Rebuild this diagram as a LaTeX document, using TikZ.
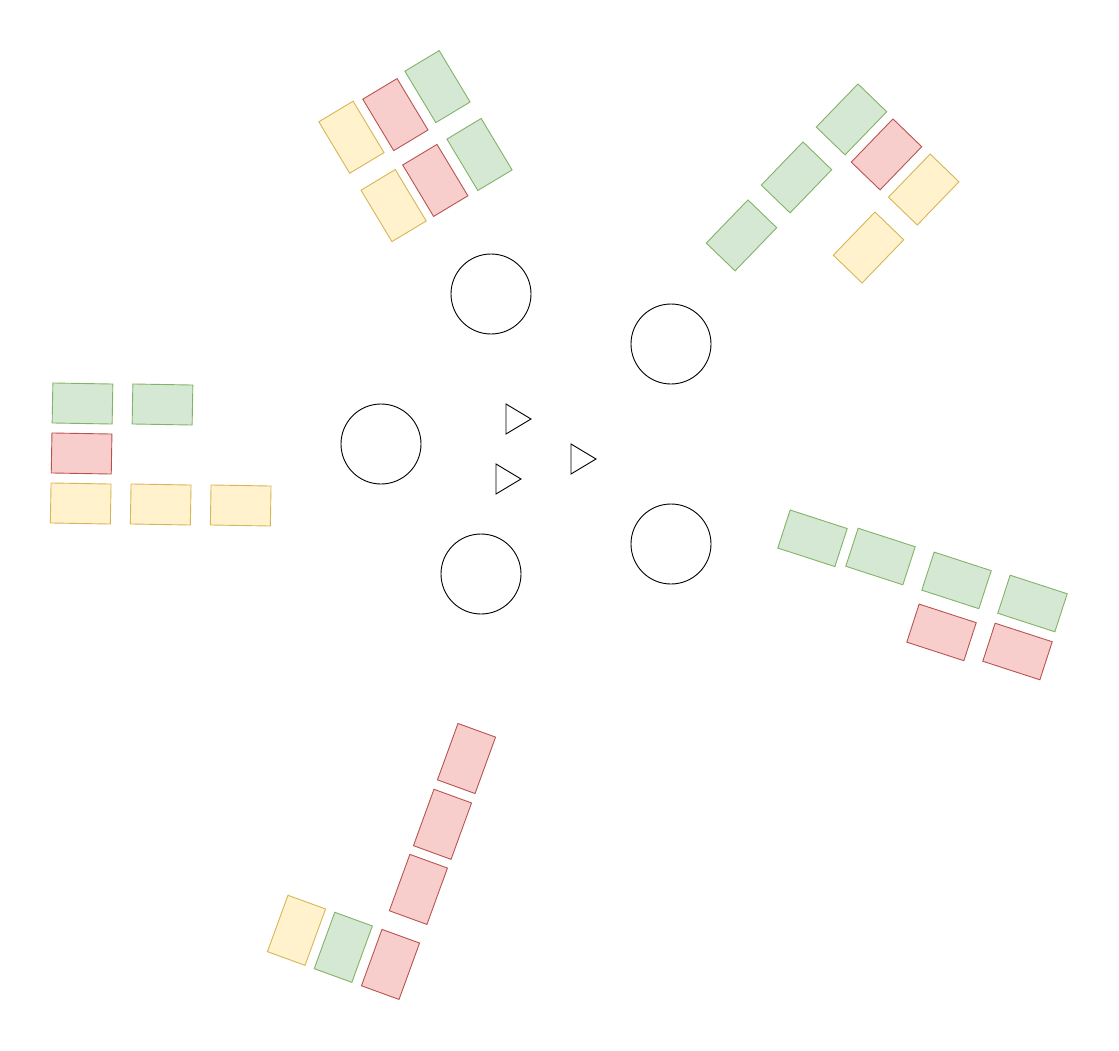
\documentclass[tikz,border=0pt]{standalone}
\definecolor{gfill}{HTML}{D5E8D4}
\definecolor{gline}{HTML}{82B366}
\definecolor{rfill}{HTML}{F8CECC}
\definecolor{rline}{HTML}{B85450}
\definecolor{yfill}{HTML}{FFF2CC}
\definecolor{yline}{HTML}{D6B656}
\tikzset{
  box/.style={draw, line width=0.9pt, inner sep=0pt, outer sep=0pt, minimum width=60pt, minimum height=40pt},
  tallbox/.style={box, minimum width=40pt, minimum height=60pt},
  gbox/.style={draw=gline, fill=gfill},
  rbox/.style={draw=rline, fill=rfill},
  ybox/.style={draw=yline, fill=yfill},
  ring/.style={circle, draw=black, line width=0.9pt, minimum size=80pt, inner sep=0pt, outer sep=0pt},
  tri/.style={draw=black, line width=0.9pt, fill=white, line join=miter}
}
\begin{document}
\begin{tikzpicture}[x=1pt,y=-1pt]
\useasboundingbox (0,0) rectangle (1119,1051);
% centre circles
\node[ring] (c1) at (491,294) {};
\node[ring] (c2) at (671,344) {};
\node[ring] (c3) at (381,444) {};
\node[ring] (c4) at (481,574) {};
\node[ring] (c5) at (671,544) {};
% triangles
\coordinate (t1) at (506,404);
\coordinate (t2) at (496,464);
\coordinate (t3) at (571,444);
\draw[tri] (t1) -- ++(25,15) -- ++(-25,15) -- cycle;
\draw[tri] (t2) -- ++(25,15) -- ++(-25,15) -- cycle;
\draw[tri] (t3) -- ++(25,15) -- ++(-25,15) -- cycle;
% top group
\node[tallbox, ybox, rotate=31] (a1) at (351.4,137.2) {};
\node[tallbox, rbox, rotate=31] (a2) at (395.4,114.6) {};
\node[tallbox, gbox, rotate=31] (a3) at (437.5,86.6) {};
\node[tallbox, ybox, rotate=31] (a4) at (393.6,205.6) {};
\node[tallbox, rbox, rotate=31] (a5) at (435.3,180.4) {};
\node[tallbox, gbox, rotate=31] (a6) at (479.5,154.5) {};
% top-right group
\node[box, gbox, rotate=46] (b1) at (851.5,119.4) {};
\node[box, gbox, rotate=46] (b2) at (796.5,177.4) {};
\node[box, gbox, rotate=46] (b3) at (741.5,235.4) {};
\node[box, rbox, rotate=46] (b4) at (886.5,154.4) {};
\node[box, ybox, rotate=46] (b5) at (923.7,189.5) {};
\node[box, ybox, rotate=46] (b6) at (868.5,247.5) {};
% left group
\node[box, gbox, rotate=-1] (l1) at (82.5,403.5) {};
\node[box, gbox, rotate=-1] (l2) at (162.5,404.5) {};
\node[box, rbox, rotate=-1] (l3) at (81.6,453.5) {};
\node[box, ybox, rotate=-1] (l4) at (80.7,503.5) {};
\node[box, ybox, rotate=-1] (l5) at (160.7,504.5) {};
\node[box, ybox, rotate=-1] (l6) at (240.7,505.5) {};
% right group
\node[box, gbox, rotate=-18] (r1) at (812.5,538.3) {};
\node[box, gbox, rotate=-18] (r2) at (880.5,556.5) {};
\node[box, gbox, rotate=-18] (r3) at (956.5,580.4) {};
\node[box, gbox, rotate=-18] (r4) at (1032.5,603.5) {};
\node[box, rbox, rotate=-18] (r5) at (941.5,632.4) {};
\node[box, rbox, rotate=-18] (r6) at (1017.5,651.5) {};
% bottom group
\node[tallbox, rbox, rotate=-20] (d1) at (466.5,758.5) {};
\node[tallbox, rbox, rotate=-20] (d2) at (442.5,824.3) {};
\node[tallbox, rbox, rotate=-20] (d3) at (418.4,889.4) {};
\node[tallbox, rbox, rotate=-20] (d4) at (390.5,964.4) {};
\node[tallbox, gbox, rotate=-20] (d5) at (343.3,947.3) {};
\node[tallbox, ybox, rotate=-20] (d6) at (296.5,930.3) {};
\end{tikzpicture}
\end{document}
